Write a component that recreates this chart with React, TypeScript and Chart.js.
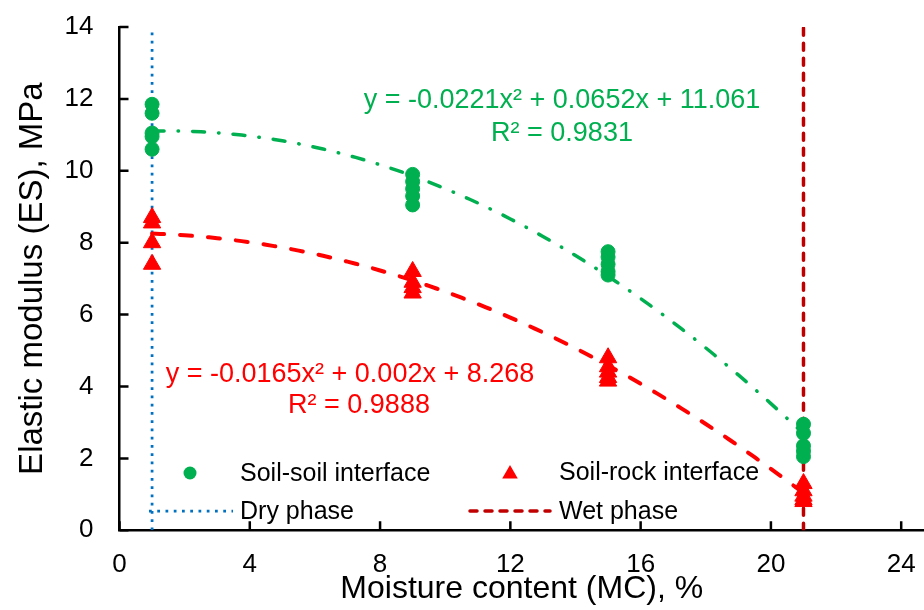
import React, { useEffect, useRef } from 'react';
import { Chart, registerables } from 'chart.js';

Chart.register(...registerables);

const FONT = '"Liberation Sans", Arial, Helvetica, sans-serif';

// ---- data ----
const soilSoilMC = [1, 1, 1, 1, 1, 9, 9, 9, 9, 9, 15, 15, 15, 15, 15, 21, 21, 21, 21, 21];
const soilSoilES = [11.85, 11.6, 11.05, 10.95, 10.6, 9.9, 9.7, 9.5, 9.3, 9.05, 7.75, 7.6, 7.4, 7.2, 7.1, 2.95, 2.7, 2.35, 2.2, 2.05];
const soilRockMC = [1, 1, 1, 1, 9, 9, 9, 9, 15, 15, 15, 15, 15, 21, 21, 21, 21, 21];
const soilRockES = [8.7, 8.55, 8.0, 7.4, 7.2, 6.9, 6.75, 6.6, 4.8, 4.55, 4.4, 4.25, 4.15, 1.3, 1.1, 0.95, 0.85, 0.8];

// Trendline coefficients shown on the chart: y = a x^2 + b x + c
const soilSoilFit = [-0.0221, 0.0652, 11.061];
const soilRockFit = [-0.0165, 0.002, 8.268];
const fitRange = [1, 21];

const dryPhaseMC = 1;
const wetPhaseMC = 21;

const xTicks = [0, 4, 8, 12, 16, 20, 24];
const yTicks = [0, 2, 4, 6, 8, 10, 12, 14];

const soilSoilEq = ['y = -0.0221x\u00B2 + 0.0652x + 11.061', 'R\u00B2 = 0.9831'];
const soilRockEq = ['y = -0.0165x\u00B2 + 0.002x + 8.268', 'R\u00B2 = 0.9888'];

const legendLabels = ['Soil-soil interface', 'Soil-rock interface', 'Dry phase', 'Wet phase'];

const GREEN = '#00B050';
const RED = '#FF0000';
const BLUE = '#0070C0';
const DARKRED = '#C00000';

function fitCurve(coef: number[]) {
  const pts: { x: number; y: number }[] = [];
  for (let x = fitRange[0]; x <= fitRange[1] + 1e-9; x += 0.25) {
    pts.push({ x, y: coef[0] * x * x + coef[1] * x + coef[2] });
  }
  return pts;
}

const insideTicks = {
  id: 'insideTicks',
  beforeDatasetsDraw(chart: any) {
    const { ctx, chartArea, scales } = chart;
    const xs = scales.x;
    const ys = scales.y;
    ctx.save();
    ctx.strokeStyle = '#000';
    ctx.lineWidth = 2.5;
    ctx.beginPath();
    xTicks.forEach((v) => {
      const px = xs.getPixelForValue(v);
      ctx.moveTo(px, chartArea.bottom);
      ctx.lineTo(px, chartArea.bottom - 9);
    });
    yTicks.forEach((v) => {
      const py = ys.getPixelForValue(v);
      ctx.moveTo(chartArea.left, py);
      ctx.lineTo(chartArea.left + 9, py);
    });
    ctx.stroke();
    ctx.restore();
  },
};

const annotations = {
  id: 'annotations',
  afterDatasetsDraw(chart: any) {
    const { ctx } = chart;
    ctx.save();
    ctx.textBaseline = 'alphabetic';
    ctx.textAlign = 'center';
    ctx.font = `27px ${FONT}`;
    ctx.fillStyle = GREEN;
    ctx.fillText(soilSoilEq[0], 562, 108);
    ctx.fillText(soilSoilEq[1], 562, 141);
    ctx.fillStyle = RED;
    ctx.fillText(soilRockEq[0], 350, 382);
    ctx.fillText(soilRockEq[1], 359, 413);

    // legend
    ctx.textAlign = 'left';
    ctx.font = `25px ${FONT}`;
    ctx.fillStyle = '#000';
    ctx.fillText(legendLabels[0], 240, 481);
    ctx.fillText(legendLabels[1], 559, 480);
    ctx.fillText(legendLabels[2], 240, 519);
    ctx.fillText(legendLabels[3], 559, 519);

    // markers
    ctx.fillStyle = GREEN;
    ctx.beginPath();
    ctx.arc(190, 473, 6.5, 0, Math.PI * 2);
    ctx.fill();

    ctx.fillStyle = RED;
    ctx.beginPath();
    const tx = 510, ty = 474, r = 9;
    for (let i = 0; i < 3; i++) {
      const a = (i * 2 * Math.PI) / 3;
      const px = tx + Math.sin(a) * r;
      const py = ty - Math.cos(a) * r;
      if (i === 0) ctx.moveTo(px, py);
      else ctx.lineTo(px, py);
    }
    ctx.closePath();
    ctx.fill();

    ctx.lineWidth = 2.75;
    ctx.strokeStyle = BLUE;
    ctx.setLineDash([2.75, 5.5]);
    ctx.beginPath();
    ctx.moveTo(149, 511);
    ctx.lineTo(233, 511);
    ctx.stroke();

    ctx.lineWidth = 3.5;
    ctx.strokeStyle = DARKRED;
    ctx.lineCap = 'round';
    ctx.setLineDash([7, 8]);
    ctx.beginPath();
    ctx.moveTo(470, 511);
    ctx.lineTo(550, 511);
    ctx.stroke();
    ctx.restore();
  },
};

export default function App() {
  const ref = useRef<HTMLCanvasElement | null>(null);

  useEffect(() => {
    if (!ref.current) return;
    const chart = new Chart(ref.current, {
      type: 'scatter',
      data: {
        datasets: [
          {
            label: legendLabels[0],
            data: soilSoilMC.map((x, i) => ({ x, y: soilSoilES[i] })),
            pointStyle: 'circle',
            pointRadius: 7,
            pointBackgroundColor: GREEN,
            pointBorderColor: GREEN,
            pointBorderWidth: 1,
            showLine: false,
            order: 0,
          },
          {
            label: legendLabels[1],
            data: soilRockMC.map((x, i) => ({ x, y: soilRockES[i] })),
            pointStyle: 'triangle',
            pointRadius: 10,
            pointBackgroundColor: RED,
            pointBorderColor: RED,
            pointBorderWidth: 1,
            showLine: false,
            order: 0,
          },
          {
            label: 'Soil-soil fit',
            data: fitCurve(soilSoilFit),
            showLine: true,
            pointRadius: 0,
            borderColor: GREEN,
            borderWidth: 3.5,
            borderDash: [12, 14, 0.5, 14],
            borderCapStyle: 'round',
            order: 1,
          },
          {
            label: 'Soil-rock fit',
            data: fitCurve(soilRockFit),
            showLine: true,
            pointRadius: 0,
            borderColor: RED,
            borderWidth: 4,
            borderDash: [12, 16],
            borderCapStyle: 'round',
            order: 1,
          },
          {
            label: legendLabels[2],
            data: [
              { x: dryPhaseMC, y: yTicks[0] },
              { x: dryPhaseMC, y: yTicks[yTicks.length - 1] },
            ],
            showLine: true,
            pointRadius: 0,
            borderColor: BLUE,
            borderWidth: 2.75,
            borderDash: [2.75, 5.5],
            order: 2,
          },
          {
            label: legendLabels[3],
            data: [
              { x: wetPhaseMC, y: yTicks[0] },
              { x: wetPhaseMC, y: yTicks[yTicks.length - 1] },
            ],
            showLine: true,
            pointRadius: 0,
            borderColor: DARKRED,
            borderWidth: 3.5,
            borderDash: [7, 8],
            borderCapStyle: 'round',
            order: 2,
          },
        ],
      },
      options: {
        responsive: false,
        animation: false,
        layout: { autoPadding: false, padding: { top: 27, right: 0, bottom: 0, left: 0 } },
        plugins: {
          legend: { display: false },
          tooltip: { enabled: false },
        },
        scales: {
          x: {
            type: 'linear',
            min: 0,
            max: 24.7,
            grid: { display: false, drawTicks: false },
            border: { display: true, color: '#000', width: 2.5 },
            ticks: {
              stepSize: 4,
              includeBounds: false,
              padding: 19,
              color: '#000',
              font: { family: FONT, size: 26 },
            },
            title: {
              display: true,
              text: 'Moisture content (MC), %',
              color: '#000',
              font: { family: FONT, size: 32 },
              padding: { top: 0, bottom: 2 },
            },
            afterFit(scale: any) {
              scale.height = 79.7;
              scale.paddingLeft = 0;
              scale.paddingRight = 0;
            },
          },
          y: {
            type: 'linear',
            min: 0,
            max: 14,
            grid: { display: false, drawTicks: false },
            border: { display: true, color: '#000', width: 2.5 },
            ticks: {
              stepSize: 2,
              padding: 26,
              color: '#000',
              font: { family: FONT, size: 26 },
            },
            title: {
              display: true,
              text: 'Elastic modulus (ES), MPa',
              color: '#000',
              font: { family: FONT, size: 33 },
              padding: { top: 13, bottom: 0 },
            },
            afterFit(scale: any) {
              scale.width = 119.5;
              scale.paddingTop = 0;
              scale.paddingBottom = 0;
            },
          },
        },
      },
      plugins: [insideTicks, annotations],
    } as any);
    return () => chart.destroy();
  }, []);

  return (
    <div style={{ position: 'fixed', left: 0, top: 0, width: 924, height: 610, background: '#fff' }}>
      <canvas ref={ref} width={924} height={610} style={{ display: 'block' }} />
    </div>
  );
}
